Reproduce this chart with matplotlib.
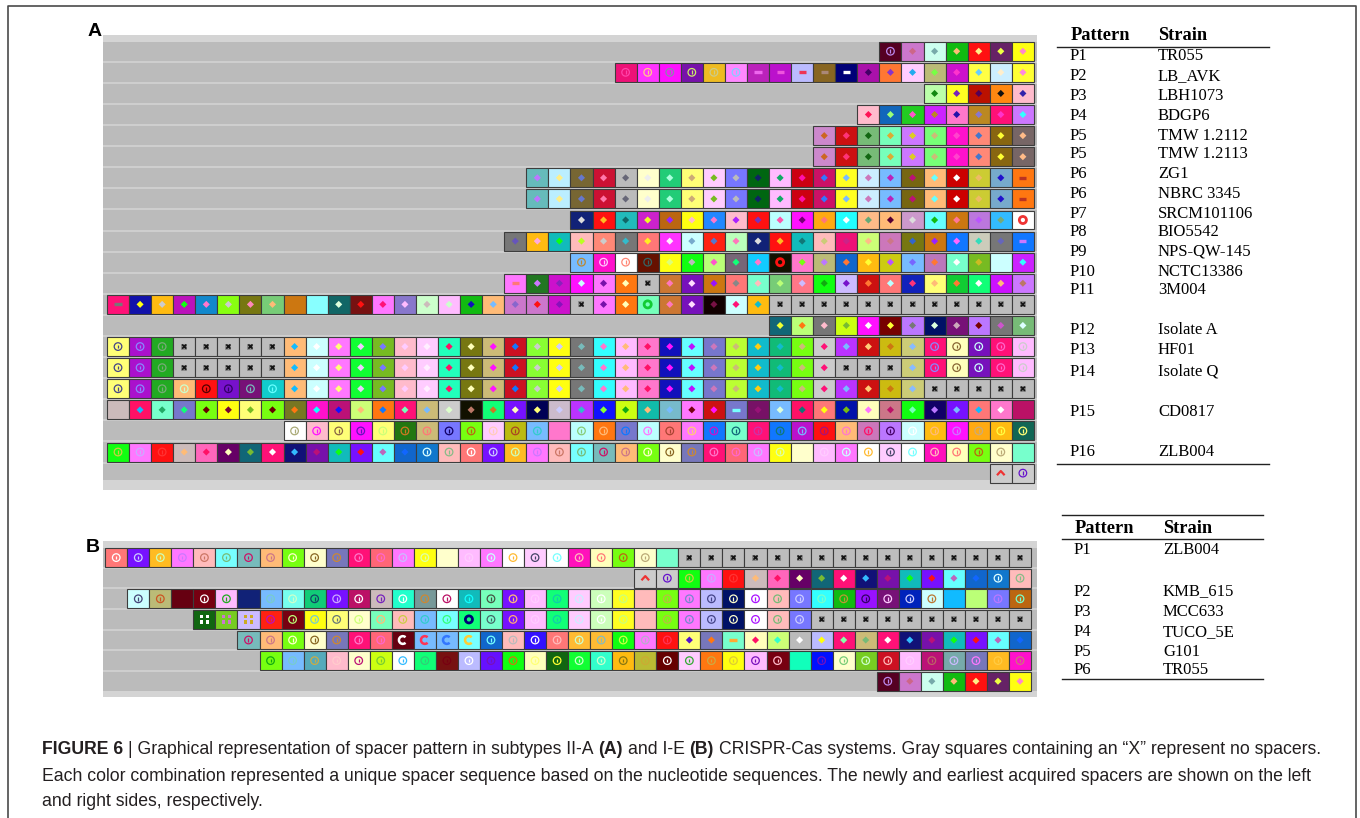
import matplotlib
matplotlib.use("Agg")
import matplotlib.pyplot as plt
from matplotlib.markers import MarkerStyle
from matplotlib.path import Path

W, H = 1360, 818
SERIF = ["Liberation Serif", "DejaVu Serif"]
SANS = ["Liberation Sans Narrow", "Liberation Sans", "DejaVu Sans"]

# =============================================================================
# Spacer arrays. One token per spacer, rows are right-aligned (earliest spacer
# on the right). Token = symbol kind + fill colour (3 hex) + symbol colour
# (3 hex); "x" marks an empty slot (no spacer).
# kinds: d diamond, c circled mark, o ring, - dash, ^ chevron, C open arc,
#        g four-square grid, n plain square
# =============================================================================

# --- subtype II-A -------------------------------------------------------------
A_TR055 = "c502b8e dc7cc68 dcfe7aa d1b1fb7 df11fe8 d626ef4 dff1f8c"
A_LB_AVK = ("ce17f4a cf3ffc8 cf1f88a c71ace6 ceb2cc8 cf8f8cf -b2be6e -b1ce5d -bbfe35 "
            "-862a87 -007fff da1a406 df7383c dfcf2ae dbb77f4 dc1cf3c dff46cf dceffec dff3f8d")
A_LBH1073 = "dbfa181 dff272b db10505 df81111 dfbc32a"
A_BDGP6 = "dfbcf15 d16b9f7 d2c2f5c dc2fb82 df7c21a db8287c df17f3c dc7f3ff"
A_TMW_2112 = "dc8cc62 dc11f37 d7b7161 d7fbda3 dc7fdc2 d7f7cb7 df1cf4c df8747c d861ff3 d766fb8"
A_TMW_2113 = A_TMW_2112
A_ZG1 = ("d6bbb7f dbeffe8 d76367c dc13f7a dbbb667 dffceee d2c7afd dff7ca7 dfcf7b2 d77fbbb "
         "d061126 dfbf1a6 dc01f1a dc1637f dff27bf dcefc7b d7bfb2b d761b17 dfb76ff dc00fff "
         "dcc3eb6 d7ac21c -f71b32")
A_NBRC3345 = A_ZG1
A_SRCM101106 = ("d127ddd df11fb2 d2bb166 dc2cef2 db6192f dff1fbc d28ff7c dfbca2f df1173b "
                "dbfff5a df1f707 dfa1f77 d2fffff dfb86a7 dfb7503 dc9cddd d6ff1b1 dc71f79 "
                "db7db5f d3bf7a7 offfe33")
A_BIO5542 = ("d77765b dfb1fad d1bb1f1 dfbbbf2 df87ccc d7773bc df77fe2 df3ffef dcff7ac "
             "df2157c dbfbf7b d127ddd df11fb2 d1bb177 dfbbcc7 de17c28 dcf7fb8 dc7bc78 "
             "d77136c dc7192f d17ff6f dccb3db d77766b -17fc7f")
A_NPS_QW_145 = ("c7bfb83 cf1cfcf cffff87 c610366 dff1df7 d1f1bbb dbf7f5c d7671f7 d1cff7c "
                "o110f11 df7c7f1 dbb7b7f d16cf73 dfb1ff3 dcc1b5f d7bf76f db7bf73 d7fcfff "
                "d7b2cb2 ncff000 dc2f3ff")
A_NCTC13386 = ("-f7ff77 d272c7f dc1c82b df1fcff df7f71a df71ffb x dc73f7b d71bfdf dc7191f "
               "df77888 d7fcfbb d7c7bf7 df78cbf d1f11a1 dcbf71c dc11f73 df77bff d12bf37 "
               "dff7fb7 d1c3f73 d1f7fff dc1ffb7 dc7fb76")
A_3M004_1 = ("-f17777 d11aff1 dfb1ccc db1b1f1 d18cf7c d8f1ccc d771f8b d7c7fb7 nc71000 "
             "n8ff000 d166dfd d711f11 df7ff17 d87cfbf dcfccbb dfbfcfc d1b111b dfb77bf "
             "dc7c86c dc7cf11 dc1c81b x df7f71a df71ffb o7fb1c3 dc73f7b d71bfdf d100714 "
             "dcfff17 dfb11bc x x x x x x x x x x x x")
A_3M004_2 = ("d167ef3 dbf7f71 d777fbc dcf17b3 df1ffff d700ff3 db7f777 d016dfd d717cab "
             "db7f700 d777c5c d7b7dff")
A_ISOLATE_A = ("cff7448 ca1c88f c2a27a7 x x x x x dfb71bf dcfffff df7fff7 d1f3ecf d7b277f "
               "dfbcfcf dfcffef d2fbf16 d771ffb dcb7f1f dc1217f d8f3ccc dff1ccf d7777bb "
               "d3fff7c dfbffb7 df7cf16 d11bf1f d6ffb1f d77cc7b dbf3cb7 d1bcfc1 d1b71bc "
               "d7f1cb7 dcccf17 db3f7bf dc11fc7 dcb1c71 dcc78bf cf1788f cffb863 c71bcff "
               "cf17f6c cfbfccc")
A_HF01 = ("cff7448 ca1c88f c2a27a7 x x x x x dfb71bf dcfffff df7fff7 d1f3ecf d7b277f "
          "dfbcfcf dfcffef d2fbf16 d771ffb dcb7f1f dc1217f d8f3ccc dff1ccf d7777bb "
          "d3fff7c dfbffb7 df7cf16 d11bf1f d6ffb1f d77cc7b dbf3cb7 d1bcfc1 d1b71bc "
          "d7f1cb7 dcccf17 x x x dcc78bf cf1788f cffb863 c71bcff cf17f6c cfbfccc")
A_ISOLATE_Q = ("cff7448 ca1c88f c2a27a7 cfb7cfc cf11500 c71c306 c7177bb c1cc6ff dfb71bf "
               "dcfffff df7fff7 d1f3ecf d7b277f dfbcfcf dfcffef d2fbf16 d771ffb dcb7f1f "
               "dc1217f d8f3ccc dff1ccf d7777bb d3fff7c dfbffb7 df7cf16 d11bf1f d6ffb1f "
               "d77cc7b dbf3cb7 d1bcfc1 d1b71bc d7f1cb7 dcccf17 db3f7bf dc11fc7 dcb1c71 "
               "dcc78bf x x x x x")
A_CD0817_1 = ("ncbb000 df161bf d7fc2a6 d77c1f7 d7f1600 dff1703 dff77b2 d7f1600 d772f71 "
              "df1c1ff db1711f dcf7fb7 df7117f df177fb dcb77bf dcccdfc d110b76 d1f7c72 "
              "d71fffb d005ff7 dcbcccf db3f3bc d11f8f3 dcf11a1 d1bafb7 d7bc7bf df7f701 "
              "dc11f1f -77c7ff d716917 d7bfdfd df16177 df77ff1 d01a7b1 dffbf7f dc78b16 "
              "d1f17fb d106b7f d71f7bf df771bf df7cfff nb16000")
A_CD0817_2 = ("cfffaa7 cfbcf1f cff7864 cf1f61b cff7cf7 c271c72 ccb7f77 c77f106 c7f1b61 "
              "cfcffcb cbb1a42 c7bf3cc cf7cf7c cbff8c7 cf71fb7 c77c17f cbfff7f cf77a43 "
              "cf7ffc7 c17fc1c c7fc167 cf17c3a c17f177 cb1c7bf cf11a17 cfb7f7c cc7bf16 "
              "cb7f406 ccfffff cfb1fb7 cf1fc7f cfa1ca7 cfb1ff4 c165ff7")
A_ZLB004_1 = ("c1f1cc4 cf7fcaf cf11f33 dcbbfb7 df6bf16 d606ffb d1677b3 df17fff d1173bf "
              "d71ab17 d1bb1f1 d71ff11 d6ffb6b d16c16f c17cdff cfbb8b8 cf77fff c71fccf "
              "cfb2cfb cf7fc7f cfbbc76 c7ff7b7 c7bbc16 cfb7c78 c7f1ffc cffc862 c77bc83 "
              "cf17f7c cf67f6c cf7fcbf cff1dfa nffc000 cfbffcf cf7fcff cffffb3 cfcf446 "
              "cfff7ff cf1bfbb cffbf77 c7f1b61 cffcba7 c7fc7fc")
A_ZLB004_2 = "^ccce33 cccc61c"

# --- subtype I-E --------------------------------------------------------------
B_ZLB004_1 = " ".join(A_ZLB004_1.split()[16:] + ["x"] * 16)
B_ZLB004_2 = " ".join(A_ZLB004_2.split() + A_ZLB004_1.split()[:16])
B_KMB_615 = ("ccff447 cbb7c52 n601000 c701fff cfbf2a2 n127000 c7bf7cc c7fecfc c1c7146 "
             "c71fcaf cb16fff ccbb72b c2fcfff c799c83 cfffb16 c1bb1ff c7fb454 c71ffb7 "
             "cfbffcf c1f71ca cfcfcef ccfbfff cff2cf7 nfbb000 c7f1bb4 cf7f78c cbbf448 "
             "c016ffc cfffa1f cfbb7b7 c77fccf c3ff7fc c1b1b93 c91f306 c717fcf c02bccf "
             "ccffb73 n1bf000 nbf7000 c77fb7f cb617fc")
B_MCC633 = ("g161fff g7c2c7c gcbfca2 cf21b1b c701bf7 cff17cc cff7677 cffccf7 c7fbfb7 "
            "cfbbcc4 c7bf3cc c7ff3f7 o1f7007 c7fc466 c71ffa7 cfbffcf c1f71ca cfcfcef "
            "ccfbfff cff2cf7 nfbb000 c7f1bb4 cf7f78c cbbf448 c016ffc cfffa1f cfbb7b7 "
            "c77fccf x x x x x x x x x x")
B_TUCO_5E = ("c7bbc16 cfb7c78 c7f1ffc cffc862 c77bc83 cf17f7c cf67f6c C601fff C7bff35 "
             "C7bf37f C7fffc3 c16c7ff cfbbbbb c31ffff cf77fbb cfb3cfc cfb38bb c1f1cf4 "
             "cf7fbac cf11f35 dff751c d77bf71 -7fcfa3 dffbf16 dcf73fc dbbbfff dbbfff1 "
             "df178fa dcb77b7 df17fff d1173bf d71ab17 d1bb1f1 d71ff11 d6ffb6b d16c16f")
B_G101 = ("c7f11a1 c7bf7cc c5abca4 cfbcfcc cffcb17 ccf17c3 cfff3bf c1f73c7 c711701 "
          "cbbffff c61f71b c1f1c71 cffbff7 c161ff3 c1f3cfc c3fccfc cfb1871 cbb3ca3 "
          "c600fff cfcf3a3 cf71ca4 cff1dc3 cfbf71b c701fbc n1fb000 c01f71b cffc7c7 "
          "c7c2cfc cc12fbb cfbffcf cb17b66 c7aacbf c77bf7f cfb2fc4 cf1cc77")
B_TR055 = A_TR055

PANEL_A_ROWS = [A_TR055, A_LB_AVK, A_LBH1073, A_BDGP6, A_TMW_2112, A_TMW_2113, A_ZG1,
                A_NBRC3345, A_SRCM101106, A_BIO5542, A_NPS_QW_145, A_NCTC13386,
                A_3M004_1, A_3M004_2, A_ISOLATE_A, A_HF01, A_ISOLATE_Q, A_CD0817_1,
                A_CD0817_2, A_ZLB004_1, A_ZLB004_2]
PANEL_B_ROWS = [B_ZLB004_1, B_ZLB004_2, B_KMB_615, B_MCC633, B_TUCO_5E, B_G101, B_TR055]
N_SLOTS = 42

# pattern tables
PATTERNS_A = ["P1", "P2", "P3", "P4", "P5", "P5", "P6", "P6", "P7", "P8", "P9", "P10",
              "P11", "P12", "P13", "P14", "P15", "P16"]
STRAINS_A = ["TR055", "LB_AVK", "LBH1073", "BDGP6", "TMW 1.2112", "TMW 1.2113", "ZG1",
             "NBRC 3345", "SRCM101106", "BIO5542", "NPS-QW-145", "NCTC13386", "3M004",
             "Isolate A", "HF01", "Isolate Q", "CD0817", "ZLB004"]
PATTERNS_B = ["P1", "P2", "P3", "P4", "P5", "P6"]
STRAINS_B = ["ZLB004", "KMB_615", "MCC633", "TUCO_5E", "G101", "TR055"]

# table row centres (pixels from top)
TABLE_A_Y = [55, 75, 95, 114, 134, 153, 173, 192, 212, 231, 250, 270, 289, 329, 349,
             370, 411, 451]
TABLE_B_Y = [548, 590, 611, 631, 650, 669]

CAPTION = [
    [("FIGURE 6", "bold"), (" | Graphical representation of spacer pattern in subtypes II-A ", "normal"),
     ("(A)", "bold"), (" and I-E ", "normal"), ("(B)", "bold"),
     (" CRISPR-Cas systems. Gray squares containing an \u201cX\u201d represent no spacers.", "normal")],
    [("Each color combination represented a unique spacer sequence based on the nucleotide "
      "sequences. The newly and earliest acquired spacers are shown on the left", "normal")],
    [("and right sides, respectively.", "normal")],
]

GRAY = "#bbbbbb"
LIGHT = "#d4d4d4"

CHEVRON = MarkerStyle(Path([(-1, -0.55), (0, 0.55), (1, -0.55)],
                           [Path.MOVETO, Path.LINETO, Path.LINETO]))
ARC = MarkerStyle(Path.arc(45, 315))


def px_box(left, top, right, bottom):
    return [left / W, 1 - bottom / H, (right - left) / W, (bottom - top) / H]


def parse(tok):
    if tok == "x":
        return "x", "#bdbdbd", "#151515"
    assert len(tok) == 7, tok
    return tok[0], "#" + tok[1:4], "#" + tok[4:7]


def draw_symbols(ax, kind, xs, ys, cs):
    if kind == "d":
        ax.scatter(xs, ys, s=13, marker="D", c=cs, linewidths=0, zorder=3)
    elif kind == "c":
        ax.scatter(xs, ys, s=30, marker="o", facecolors="none", edgecolors=cs,
                   linewidths=0.9, zorder=3)
        ax.scatter(xs, ys, s=7, marker="|", c=cs, linewidths=0.9, zorder=3)
    elif kind == "o":
        ax.scatter(xs, ys, s=26, marker="o", facecolors="none", edgecolors=cs,
                   linewidths=2.0, zorder=3)
    elif kind == "-":
        ax.scatter(xs, ys, s=26, marker="_", c=cs, linewidths=2.4, zorder=3)
    elif kind == "x":
        ax.scatter(xs, ys, s=24, marker="s", c="#8f8f8f", linewidths=0, zorder=3)
        ax.scatter(xs, ys, s=9, marker="x", c=cs, linewidths=1.2, zorder=4)
    elif kind == "^":
        ax.scatter(xs, ys, s=30, marker=CHEVRON, facecolors="none", edgecolors=cs,
                   linewidths=1.6, zorder=3)
    elif kind == "C":
        ax.scatter(xs, ys, s=32, marker=ARC, facecolors="none", edgecolors=cs,
                   linewidths=1.8, zorder=3)
    elif kind == "g":
        for dx in (-0.13, 0.13):
            for dy in (-0.13, 0.13):
                ax.scatter([x + dx for x in xs], [y + dy for y in ys], s=6, marker="s",
                           c=cs, linewidths=0, zorder=3)


def draw_panel(ax, rows, height):
    cols, tops, fills = [], [], []
    groups = {}
    for r, row in enumerate(rows):
        toks = row.split()
        start = N_SLOTS - len(toks)
        for i, tok in enumerate(toks):
            kind, fill, mark = parse(tok)
            cols.append(start + i)
            tops.append(r)
            fills.append(fill)
            groups.setdefault(kind, []).append((start + i + 0.5, r + height / 2, mark))
    ax.bar(cols, height, width=1, bottom=tops, align="edge", color=fills,
           edgecolor="#3d3d3d", linewidth=0.8, zorder=2)
    for kind, pts in groups.items():
        xs, ys, cs = zip(*pts)
        draw_symbols(ax, kind, list(xs), list(ys), list(cs))


def setup_panel(ax, xlim, ylim, gray_bottom, n_rows):
    ax.set_xlim(*xlim)
    ax.set_ylim(*ylim)
    ax.set_facecolor(LIGHT)
    ax.axhspan(0, gray_bottom, color=GRAY, lw=0, zorder=0)
    ax.hlines([r + 0.95 for r in range(n_rows - 1)], xlim[0], xlim[1],
              color=LIGHT, lw=1.1, zorder=1)
    ax.set_xticks([])
    ax.set_yticks([])
    for s in ax.spines.values():
        s.set_visible(False)


fig = plt.figure(figsize=(W / 100, H / 100), dpi=100)

# overlay in pixel units for frame, tables and caption
lay = fig.add_axes([0, 0, 1, 1])
lay.set_xlim(0, W)
lay.set_ylim(H, 0)
lay.set_axis_off()
lay.plot([8, 8, 1356, 1356], [H + 5, 6, 6, H + 5], color="#4a4a4a", lw=1.2,
         clip_on=False)

# panel A
ax_a = fig.add_axes(px_box(103, 35, 1037, 490))
setup_panel(ax_a, (-0.18, 42.14), (21.25, -0.32), 20.77, len(PANEL_A_ROWS))
draw_panel(ax_a, PANEL_A_ROWS, 0.9)

# panel B
ax_b = fig.add_axes(px_box(103, 541, 1037, 697))
setup_panel(ax_b, (-0.10, 42.27), (7.22, -0.35), 6.91, len(PANEL_B_ROWS))
draw_panel(ax_b, PANEL_B_ROWS, 0.91)

lay.text(95, 32, "A", family=SANS[1:], weight="bold", fontsize=14, ha="center", va="center")
lay.text(93, 548, "B", family=SANS[1:], weight="bold", fontsize=14, ha="center", va="center")


def draw_table(x0, x1, xp, xs, header_y, rule_ys, ys, patterns, strains):
    lay.text(xp, header_y + 6, "Pattern", family=SERIF, weight="bold", fontsize=13.2,
             va="baseline")
    lay.text(xs, header_y + 6, "Strain", family=SERIF, weight="bold", fontsize=13.2,
             va="baseline")
    for y in rule_ys:
        lay.plot([x0, x1], [y, y], color="#222222", lw=1.0)
    for y, p, s in zip(ys, patterns, strains):
        lay.text(xp - 1, y + 5.5, p, family=SERIF, fontsize=12, va="baseline")
        lay.text(xs, y + 5.5, s, family=SERIF, fontsize=12, va="baseline")


draw_table(1057, 1269, 1071, 1158, 34, [46.5, 463.5], TABLE_A_Y, PATTERNS_A, STRAINS_A)
draw_table(1062, 1263, 1075, 1163, 527, [515, 538.5, 679], TABLE_B_Y, PATTERNS_B, STRAINS_B)

# caption, written run by run so the bold parts sit inline
renderer = fig.canvas.get_renderer()


def text_width(s, weight, size):
    t = lay.text(0, 0, s, family=SANS, weight=weight, fontsize=size)
    w = t.get_window_extent(renderer).width
    t.remove()
    return w


def line_width(line, size):
    sp = text_width("a a", "normal", size) - text_width("aa", "normal", size)
    total = 0
    for s, weight in line:
        total += text_width(s.strip(" "), weight, size)
        total += (len(s) - len(s.strip(" "))) * sp
    return total


# size the caption so the first line runs from the left margin to x=1318
cap_size = 13.0 * 1276 / line_width(CAPTION[0], 13.0)
space_w = text_width("a a", "normal", cap_size) - text_width("aa", "normal", cap_size)
for line, base in zip(CAPTION, [754, 781, 806]):
    x = 42
    for s, weight in line:
        lead = len(s) - len(s.lstrip(" "))
        trail = len(s) - len(s.rstrip(" "))
        x += lead * space_w
        t = lay.text(x, base, s.strip(" "), family=SANS, weight=weight, fontsize=cap_size,
                     color="#231f20", va="baseline")
        x += t.get_window_extent(renderer).width + trail * space_w

fig.savefig("out.png", dpi=100, facecolor="white")
